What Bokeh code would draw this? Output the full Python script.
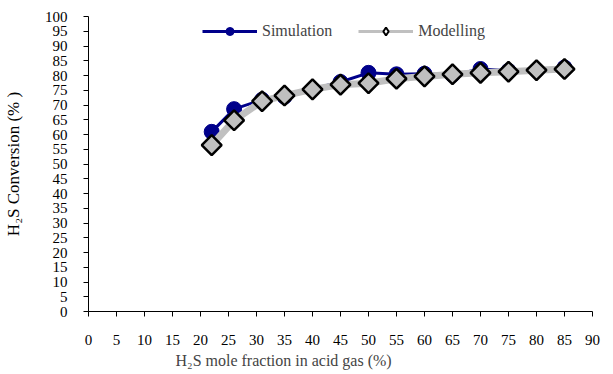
import math
from bokeh.plotting import figure
from bokeh.models import Range1d, FixedTicker, Title, Legend, LegendItem
from bokeh.embed import file_html
from bokeh.resources import INLINE

# ---- data ----
x_vals = [22, 26, 31, 35, 40, 45, 50, 55, 60, 65, 70, 75, 80, 85]
simulation = [60.9, 68.6, 71.8, 72.8, 75.4, 77.8, 80.9, 80.4, 80.6, 80.2, 82.2, 81.6, 81.8, 82.7]
modelling = [56.4, 64.8, 71.3, 73.2, 75.3, 76.9, 77.4, 78.9, 79.7, 80.4, 80.9, 81.3, 81.8, 82.2]
x_ticks = list(range(0, 91, 5))
y_ticks = list(range(0, 101, 5))

FONT = "Liberation Serif"
NAVY = "#00008B"
GRAY = "#C0C0C0"
NAN = float("nan")

p = figure(width=613, height=374, x_range=Range1d(0, 90), y_range=Range1d(0, 100),
           output_backend="svg", toolbar_location=None, title=None,
           min_border_left=88, min_border_right=21, min_border_top=16, min_border_bottom=62)
p.outline_line_color = None
p.xgrid.visible = False
p.ygrid.visible = False
p.background_fill_color = "white"
p.border_fill_color = "white"

for ax, ticks in ((p.xaxis[0], x_ticks), (p.yaxis[0], y_ticks)):
    ax.ticker = FixedTicker(ticks=ticks)
    ax.minor_tick_line_color = None
    ax.major_tick_in = 0
    ax.major_tick_out = 5
    ax.major_label_text_font = FONT
    ax.major_label_text_font_size = "15px"
    ax.major_label_text_color = "black"
    ax.axis_line_color = "black"
    ax.major_tick_line_color = "black"
p.yaxis[0].major_label_standoff = 16
p.xaxis[0].major_label_standoff = 18

p.yaxis[0].axis_label = "H₂S Conversion (% )"
p.yaxis[0].axis_label_standoff = 19
p.yaxis[0].axis_label_text_font = FONT
p.yaxis[0].axis_label_text_font_size = "17px"
p.yaxis[0].axis_label_text_font_style = "normal"
p.yaxis[0].axis_label_text_color = "black"

# series
p.line(x_vals, simulation, line_color=NAVY, line_width=3)
p.scatter(x_vals, simulation, marker="circle", size=15, fill_color=NAVY, line_color=NAVY)
p.line(x_vals, modelling, line_color=GRAY, line_width=7)
p.scatter(x_vals, modelling, marker="square", angle=math.pi / 4, size=14,
          fill_color=GRAY, line_color="black", line_width=2.5)

# legend proxies (small markers as in the reference legend)
ls = p.line([NAN], [NAN], line_color=NAVY, line_width=3)
ms = p.scatter([NAN], [NAN], marker="circle", size=8, fill_color=NAVY, line_color=NAVY)
lm = p.line([NAN], [NAN], line_color=GRAY, line_width=3)
mm = p.scatter([NAN], [NAN], marker="diamond", size=10, fill_color="white",
               line_color="black", line_width=2)
legend = Legend(items=[LegendItem(label="Simulation", renderers=[ls, ms]),
                       LegendItem(label="Modelling", renderers=[lm, mm])],
                location=(114, 270), orientation="horizontal",
                border_line_alpha=0, background_fill_alpha=0, padding=0, margin=0,
                glyph_width=55, glyph_height=20, label_standoff=5, spacing=26,
                label_text_font=FONT, label_text_font_size="16px", label_height=20)
p.add_layout(legend, "center")

# x-axis title (offset to the left as in the reference)
p.add_layout(Title(text="H₂S mole fraction in acid gas (%)", align="left", offset=87,
                   text_font=FONT, text_font_size="16px", text_font_style="normal",
                   vertical_align="top", standoff=8), "below")

open("out.html", "w").write(file_html(p, INLINE))
